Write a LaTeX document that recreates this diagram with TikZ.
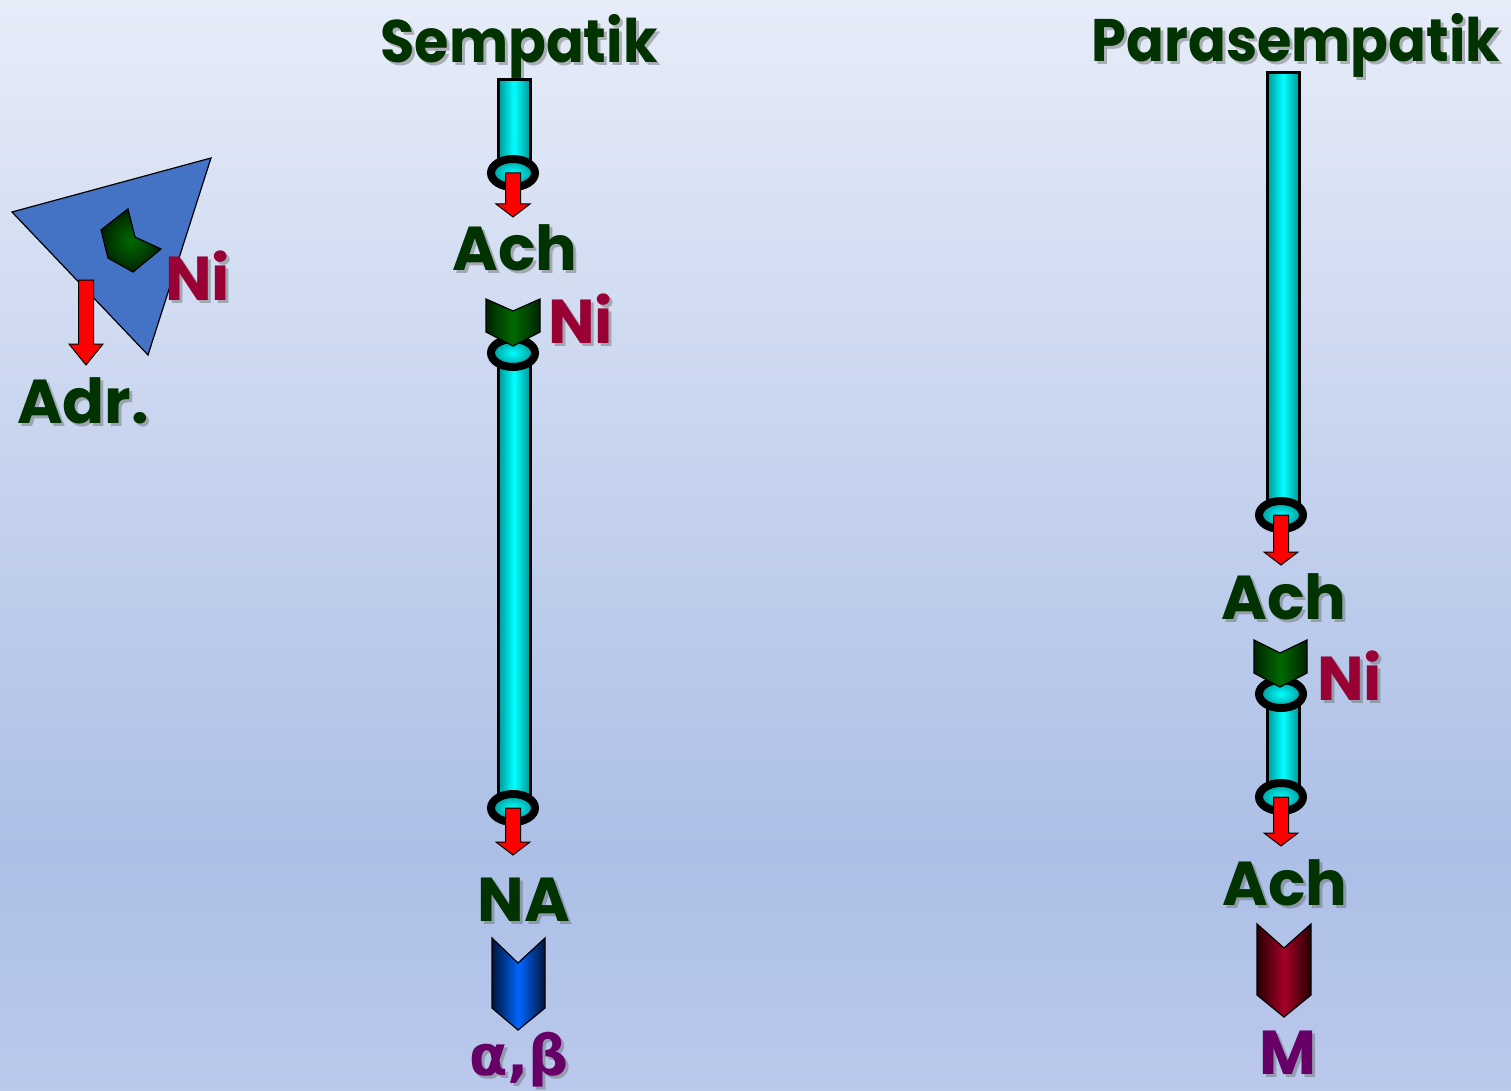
\documentclass[tikz,border=0pt]{standalone}
\usepackage{fontspec}
\setmainfont{Poppins}
\newfontfamily\greekfont{DejaVu Sans}
\usetikzlibrary{calc,shapes.geometric}

\definecolor{bgtop}{RGB}{230,236,248}
\definecolor{bgmid}{RGB}{172,191,230}
\definecolor{bgbot}{RGB}{186,201,236}
\definecolor{txtgreen}{RGB}{0,51,0}
\definecolor{nired}{RGB}{153,0,51}
\definecolor{purp}{RGB}{102,0,102}
\definecolor{axcyan}{RGB}{0,255,255}
\definecolor{axedge}{RGB}{0,150,150}
\definecolor{adrblue}{RGB}{68,114,196}
\definecolor{grnedge}{RGB}{0,35,0}
\definecolor{grnmid}{RGB}{0,105,0}
\definecolor{bluedge}{RGB}{0,20,60}
\definecolor{blumid}{RGB}{0,102,255}
\definecolor{rededge}{RGB}{40,0,0}
\definecolor{redmid}{RGB}{165,0,40}

% block arrow for transmitter release: #1 head length, #2 start, #3 tip
\newcommand\releasearrow[3][13]{%
  \path[relarrow] let \p1=(#2), \p2=(#3) in
    (\x1-7.5pt,\y1) -- (\x1-7.5pt,\y2+#1pt) -- (\x1-17pt,\y2+#1pt) -- (\x1,\y2)
    -- (\x1+17pt,\y2+#1pt) -- (\x1+7.5pt,\y2+#1pt) -- (\x1+7.5pt,\y1) -- cycle;}

% text with a soft drop shadow
\newcommand\shadowlabel[4]{%
  \node[#3, text=black!60, opacity=0.45] at ([shift={(3pt,-3pt)}]#2) {#4};
  \node[#3] (#1) at (#2) {#4};}

% slightly condensed heading text
\newcommand\headtext[1]{\scalebox{0.93}[1]{#1}}

\begin{document}
\begin{tikzpicture}[x=1pt,y=-1pt,
  axon/.style={draw=black, line width=3pt, left color=axedge, right color=axedge, middle color=axcyan},
  term/.style={ellipse, draw=black, line width=8pt, minimum width=44pt, minimum height=28pt,
               inner sep=0pt, inner color=axcyan, outer color=axedge},
  relarrow/.style={fill=red, draw=black, line width=1pt, line join=miter},
  chev/.style={draw=black, line width=1.2pt, line join=miter},
  grnchev/.style={chev, left color=grnedge, right color=grnedge, middle color=grnmid},
  bluchev/.style={chev, left color=bluedge, right color=bluedge, middle color=blumid},
  redchev/.style={chev, left color=rededge, right color=rededge, middle color=redmid},
  lbl/.style={font=\bfseries\fontsize{62}{62}\selectfont, text=txtgreen, inner sep=0pt, anchor=base},
  title/.style={lbl, font=\bfseries\fontsize{60}{60}\selectfont},
  nilbl/.style={lbl, text=nired, anchor=base west},
  reclbl/.style={lbl, text=purp},
]
\path[use as bounding box] (0,0) rectangle (1511,1091);
\shade[top color=bgtop, bottom color=bgmid] (0,0) rectangle (1511,850);
\shade[top color=bgmid, bottom color=bgbot] (0,849) rectangle (1511,1091);

% ---------- adrenal medulla ----------
\draw[fill=adrblue, draw=black, line width=1.2pt] (12,212) -- (211,158) -- (148,355) -- cycle;
\draw[draw=black, line width=1.2pt, inner color=grnmid, outer color=grnedge]
  (101,230) -- (128,209) -- (135,237) -- (161,249) -- (133,272) -- (108,258) -- cycle;
\coordinate (adrtop) at (86,280);
\coordinate (adrtip) at (86,365);
\releasearrow[21]{adrtop}{adrtip}
\shadowlabel{niadr}{165,300}{nilbl}{Ni}
\shadowlabel{adr}{17,423}{lbl, anchor=base west}{Adr.}

% ---------- sympathetic pathway ----------
\shadowlabel{symtitle}{519,63}{title}{\headtext{Sempatik}}
\draw[axon] (498,80) rectangle (530,165);
\draw[axon] (498,360) rectangle (530,800);
\node[term] (st1) at (513,173) {};
\node[term] (st2) at (513,353) {};
\node[term] (st3) at (513,808) {};
\coordinate (sa1) at (514,217);
\coordinate (sa2) at (514,855);
\releasearrow{st1}{sa1}
\releasearrow{st3}{sa2}
\shadowlabel{sach}{515,270}{lbl}{Ach}
\path[grnchev] (486,299) -- (513,311) -- (540,299) -- (540,332) -- (513,346) -- (486,332) -- cycle;
\shadowlabel{sni}{548,343}{nilbl}{Ni}
\shadowlabel{sna}{524,921}{lbl}{NA}
\path[bluchev] (492,938) -- (518,963) -- (545,938) -- (545,1008) -- (518,1030) -- (492,1008) -- cycle;
\shadowlabel{sab}{519,1075}{reclbl, font=\greekfont\bfseries\fontsize{56}{56}\selectfont}{α,β}

% ---------- parasympathetic pathway ----------
\shadowlabel{partitle}{1296,62}{title}{\headtext{Parasempatik}}
\draw[axon] (1267,73) rectangle (1299,505);
\draw[axon] (1267,700) rectangle (1299,790);
\node[term] (pt1) at (1281,515) {};
\node[term] (pt2) at (1281,694) {};
\node[term] (pt3) at (1281,797) {};
\coordinate (pa1) at (1282,565);
\coordinate (pa2) at (1282,846);
\releasearrow{pt1}{pa1}
\releasearrow{pt3}{pa2}
\shadowlabel{pach1}{1284,619}{lbl}{Ach}
\path[grnchev] (1254,640) -- (1280,653) -- (1307,640) -- (1307,673) -- (1280,687) -- (1254,673) -- cycle;
\shadowlabel{pni}{1317,700}{nilbl}{Ni}
\shadowlabel{pach2}{1285,905}{lbl}{Ach}
\path[redchev] (1257,924) -- (1284,948) -- (1311,924) -- (1311,995) -- (1284,1017) -- (1257,995) -- cycle;
\shadowlabel{pm}{1288,1074}{reclbl}{M}
\end{tikzpicture}
\end{document}
